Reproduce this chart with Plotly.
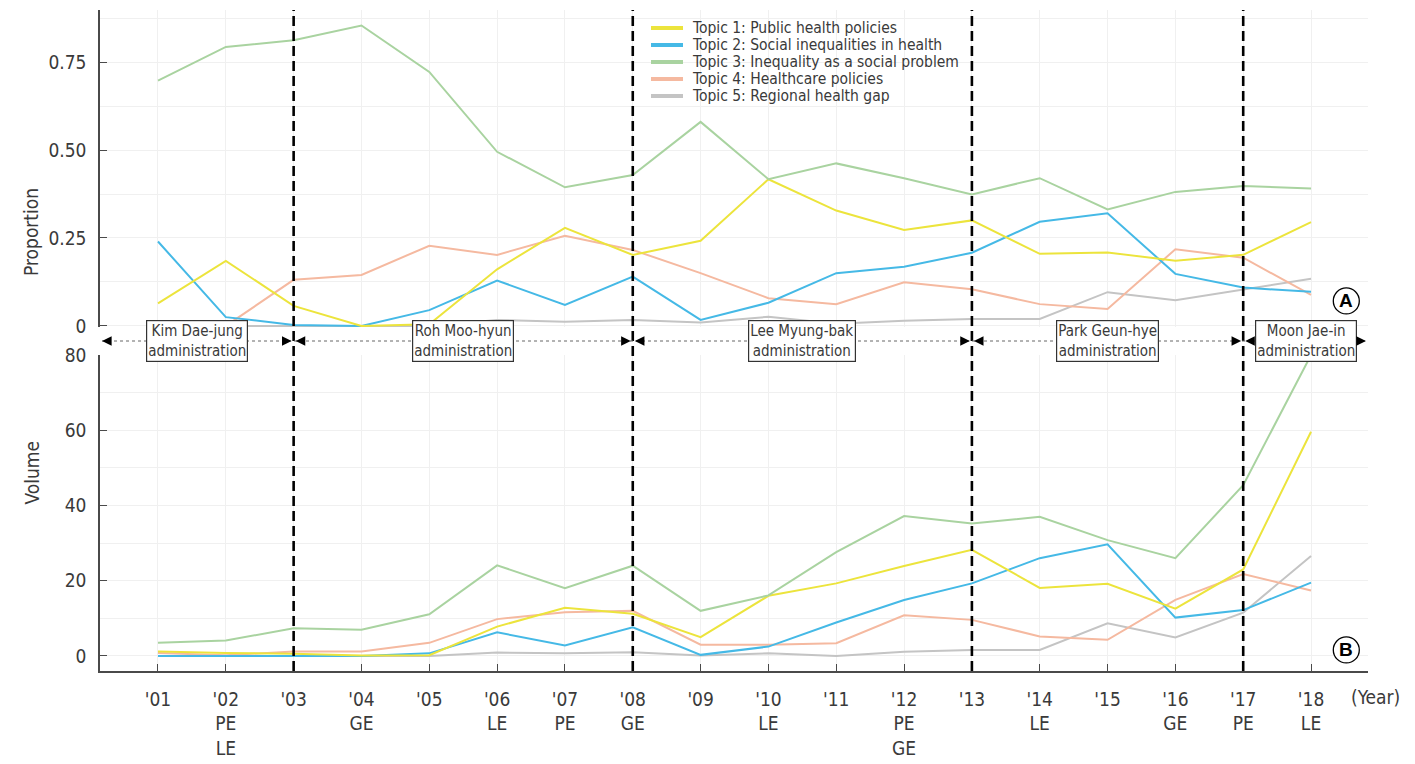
import plotly.graph_objects as go

# ---------------- data ----------------
years = list(range(2001, 2019))
year_labels = ["'01", "'02", "'03", "'04", "'05", "'06", "'07", "'08", "'09",
               "'10", "'11", "'12", "'13", "'14", "'15", "'16", "'17", "'18"]
election_labels = ["", "PE<br>LE", "", "GE", "", "LE", "PE", "GE", "",
                   "LE", "", "PE<br>GE", "", "LE", "", "GE", "PE", "LE"]

topic_names = ["Topic 1: Public health policies",
               "Topic 2: Social inequalities in health",
               "Topic 3: Inequality as a social problem",
               "Topic 4: Healthcare policies",
               "Topic 5: Regional health gap"]
topic_colors = ["#ece43c", "#45b9e6", "#a9d3a0", "#f5b9a0", "#c4c4c4"]

# Panel A: proportion
prop_t1 = [0.064, 0.185, 0.057, 0.000, 0.005, 0.161, 0.279, 0.202, 0.242,
           0.417, 0.328, 0.273, 0.300, 0.205, 0.209, 0.185, 0.202, 0.295]
prop_t2 = [0.240, 0.025, 0.003, 0.000, 0.045, 0.129, 0.060, 0.140, 0.017,
           0.066, 0.150, 0.168, 0.208, 0.296, 0.320, 0.148, 0.109, 0.097]
prop_t3 = [0.697, 0.793, 0.812, 0.854, 0.722, 0.495, 0.394, 0.429, 0.580,
           0.417, 0.462, 0.420, 0.374, 0.420, 0.331, 0.381, 0.398, 0.391]
prop_t4 = [0.000, 0.000, 0.131, 0.145, 0.228, 0.202, 0.256, 0.216, 0.150,
           0.079, 0.062, 0.124, 0.104, 0.062, 0.048, 0.218, 0.194, 0.088]
prop_t5 = [0.000, 0.000, 0.000, 0.000, 0.000, 0.017, 0.012, 0.017, 0.010,
           0.026, 0.006, 0.015, 0.020, 0.020, 0.096, 0.073, 0.104, 0.134]

# Panel B: volume
vol_t1 = [1.2, 0.8, 0.6, 0.1, 0.2, 7.8, 12.8, 11.2, 5.0,
          16.0, 19.3, 23.9, 28.2, 18.1, 19.2, 12.6, 23.0, 59.6]
vol_t2 = [0.0, 0.0, 0.0, 0.0, 0.7, 6.3, 2.8, 7.6, 0.3,
          2.5, 8.9, 14.9, 19.3, 26.0, 29.7, 10.2, 12.2, 19.5]
vol_t3 = [3.5, 4.1, 7.4, 7.0, 11.1, 24.1, 18.0, 24.0, 12.0,
          16.1, 27.6, 37.2, 35.2, 37.0, 30.8, 26.0, 45.4, 80.0]
vol_t4 = [0.8, 0.2, 1.2, 1.2, 3.5, 9.8, 11.6, 12.0, 3.0,
          3.0, 3.4, 10.8, 9.6, 5.2, 4.3, 14.9, 21.8, 17.4]
vol_t5 = [0.0, 0.0, 0.0, 0.0, 0.0, 0.9, 0.7, 1.0, 0.1,
          0.7, 0.0, 1.1, 1.6, 1.6, 8.7, 4.9, 11.5, 26.6]

admin_names = ["Kim Dae-jung<br>administration", "Roh Moo-hyun<br>administration",
               "Lee Myung-bak<br>administration", "Park Geun-hye<br>administration",
               "Moon Jae-in<br>administration"]
admin_boundaries = [2003, 2008, 2013, 2017]

prop_series = [prop_t1, prop_t2, prop_t3, prop_t4, prop_t5]
vol_series = [vol_t1, vol_t2, vol_t3, vol_t4, vol_t5]

# ---------------- figure ----------------
FONT = "Liberation Sans Narrow, DejaVu Sans Condensed, Roboto Condensed, Arial Narrow, sans-serif"
TXT = "#3a3a3a"
AX = "#4a4a4a"
GRID = "#f0f0f0"

W, H = 1415, 764
ML, MR, MT, MB = 100, 47, 10, 93
PW, PH = W - ML - MR, H - MT - MB

def px_x(p):  # pixel -> paper x
    return (p - ML) / PW

def px_y(p):  # pixel -> paper y
    return (H - MB - p) / PH

x_min, x_max = 2000.145, 2018.84

fig = go.Figure()

draw_order = [4, 3, 1, 0, 2]
for i in draw_order:
    fig.add_trace(go.Scatter(x=years, y=prop_series[i], mode="lines",
                             line=dict(color=topic_colors[i], width=2),
                             showlegend=False, xaxis="x", yaxis="y",
                             hoverinfo="x+y", name=topic_names[i]))
for i in draw_order:
    fig.add_trace(go.Scatter(x=years, y=vol_series[i], mode="lines",
                             line=dict(color=topic_colors[i], width=2),
                             showlegend=False, xaxis="x2", yaxis="y2",
                             hoverinfo="x+y", name=topic_names[i]))

tick_text = [f"{y}<br>{e}" if e else y for y, e in zip(year_labels, election_labels)]

shapes = []
annotations = []

# manual legend
for i in range(5):
    yc = px_y(28 + 17 * i)
    shapes.append(dict(type="line", xref="paper", yref="paper",
                       x0=px_x(651), x1=px_x(683), y0=yc, y1=yc,
                       line=dict(color=topic_colors[i], width=4)))
    annotations.append(dict(x=px_x(690), y=yc, xref="paper", yref="paper",
                            text=topic_names[i], showarrow=False,
                            xanchor="left", yanchor="middle",
                            font=dict(family=FONT, size=15.5, color=TXT)))

# administration boundary dashed lines
for b in admin_boundaries:
    shapes.append(dict(type="line", xref="x", yref="paper", x0=b, x1=b, y0=0, y1=1,
                       line=dict(color="black", width=2.6, dash="10px,5px"), layer="above"))

# administration timeline
y_tl = px_y(341)
shapes.append(dict(type="line", xref="x", yref="paper", x0=x_min + 0.03, x1=x_max - 0.03,
                   y0=y_tl, y1=y_tl, line=dict(color="#666666", width=1, dash="dot")))
edges = [x_min] + admin_boundaries + [x_max]
for k in range(len(admin_names)):
    a, b = edges[k], edges[k + 1]
    annotations.append(dict(x=(a + b) / 2, y=y_tl, xref="x", yref="paper",
                            text=admin_names[k], showarrow=False,
                            font=dict(family=FONT, size=15, color=TXT),
                            bgcolor="white", bordercolor="#333333", borderwidth=1.2,
                            borderpad=1, align="center"))
    for tip, tail in ((a, a + 0.14), (b, b - 0.14)):
        tip_off = 0.03 if tip == a else -0.03
        annotations.append(dict(x=tip + tip_off, y=y_tl, xref="x", yref="paper",
                                ax=tail, ay=0, axref="x", ayref="pixel",
                                text="", showarrow=True, arrowhead=2, arrowsize=1.2,
                                arrowwidth=1.6, arrowcolor="black", standoff=0))

# circled panel labels
for lab, yref, yc in (("A", "y", 0.071), ("B", "y2", 1.6)):
    shapes.append(dict(type="circle", xref="x", yref=yref, xsizemode="pixel",
                       ysizemode="pixel", xanchor=2018.52, yanchor=yc,
                       x0=-13, x1=13, y0=-13, y1=13,
                       line=dict(color="black", width=1.3), fillcolor="white",
                       layer="above"))
    annotations.append(dict(x=2018.52, y=yc, xref="x", yref=yref, text=f"<b>{lab}</b>",
                            showarrow=False, font=dict(family="Liberation Sans, Arial, sans-serif",
                                                       size=19, color="black")))

# axis titles and (Year)
annotations.append(dict(x=px_x(18), y=px_y(186), xref="paper", yref="paper", text="Proportion",
                        textangle=-90, showarrow=False,
                        font=dict(family=FONT, size=19, color=TXT)))
annotations.append(dict(x=px_x(18), y=px_y(507), xref="paper", yref="paper", text="Volume",
                        textangle=-90, showarrow=False,
                        font=dict(family=FONT, size=19, color=TXT)))
annotations.append(dict(x=px_x(1375), y=px_y(697), xref="paper", yref="paper", text="(Year)",
                        showarrow=False, xanchor="center", yanchor="middle",
                        font=dict(family=FONT, size=19, color=TXT)))

fig.update_layout(
    template="none",
    width=W, height=H,
    margin=dict(l=ML, r=MR, t=MT, b=MB, autoexpand=False),
    paper_bgcolor="white", plot_bgcolor="white",
    font=dict(family=FONT, size=19, color=TXT),
    showlegend=False,
    xaxis=dict(domain=[0, 1], range=[x_min, x_max], anchor="y", automargin=False,
               tickvals=years, showticklabels=False, ticks="",
               showgrid=True, gridcolor=GRID, showline=False, zeroline=False),
    yaxis=dict(domain=[px_y(327), 1], range=[-0.003, 0.898], automargin=False,
               tickvals=[0, 0.25, 0.5, 0.75], ticktext=["0", "0.25", "0.50", "0.75"],
               ticks="inside", ticklen=7, tickcolor=AX, tickwidth=1.3,
               showline=True, linecolor=AX, linewidth=1.5,
               showgrid=True, gridcolor=GRID, zeroline=False,
               minor=dict(dtick=0.125, tick0=0, showgrid=True, gridcolor=GRID, ticks=""),
               ticklabelstandoff=8),
    xaxis2=dict(domain=[0, 1], range=[x_min, x_max], anchor="y2", matches="x",
                automargin=False,
                tickvals=years, ticktext=tick_text,
                ticks="inside", ticklen=7, tickcolor=AX, tickwidth=1.3,
                showline=True, linecolor=AX, linewidth=1.5,
                showgrid=True, gridcolor=GRID, zeroline=False,
                ticklabelstandoff=10),
    yaxis2=dict(domain=[0, px_y(355)], range=[-3.99, 80.0], anchor="x2", automargin=False,
                tickvals=[0, 20, 40, 60, 80],
                ticks="inside", ticklen=7, tickcolor=AX, tickwidth=1.3,
                showline=True, linecolor=AX, linewidth=1.5,
                showgrid=True, gridcolor=GRID, zeroline=False,
                minor=dict(dtick=10, tick0=0, showgrid=True, gridcolor=GRID, ticks=""),
                ticklabelstandoff=8),
    shapes=shapes, annotations=annotations,
)

fig.write_html("out.html", config={"displayModeBar": False},
               post_script="document.body.style.margin='0';document.body.style.overflow='hidden';")
